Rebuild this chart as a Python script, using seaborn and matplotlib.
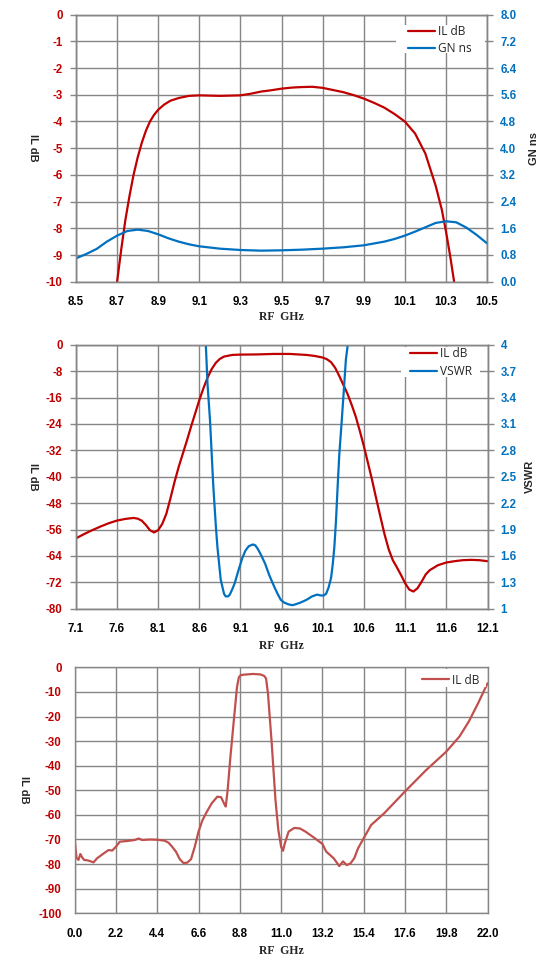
import numpy as np
import pandas as pd
import matplotlib
matplotlib.use("Agg")
import matplotlib.pyplot as plt
from matplotlib.patches import Rectangle
import seaborn as sns

# ---------------- data ----------------
# Chart 1: IL dB and GN ns vs RF GHz
il1_f = [8.70, 8.72, 8.74, 8.76, 8.78, 8.80, 8.82, 8.84, 8.86, 8.88, 8.90, 8.93, 8.96, 9.00, 9.05, 9.10,
         9.20, 9.30, 9.35, 9.40, 9.45, 9.50, 9.55, 9.60, 9.65, 9.70, 9.75, 9.80, 9.85, 9.90,
         9.95, 10.00, 10.05, 10.10, 10.15, 10.20, 10.25, 10.28, 10.30, 10.32, 10.34]
il1_db = [-10.0, -8.8, -7.7, -6.8, -6.0, -5.35, -4.8, -4.35, -4.0, -3.75, -3.56, -3.36, -3.22, -3.12, -3.04, -3.02,
          -3.04, -3.02, -2.96, -2.88, -2.83, -2.77, -2.73, -2.71, -2.70, -2.74, -2.82, -2.90, -3.01, -3.14,
          -3.30, -3.48, -3.72, -4.00, -4.45, -5.20, -6.40, -7.30, -8.10, -9.00, -10.0]
gn_f = [8.50, 8.55, 8.60, 8.65, 8.70, 8.75, 8.80, 8.85, 8.90, 8.95, 9.00, 9.05, 9.10, 9.20, 9.30,
        9.40, 9.50, 9.60, 9.70, 9.80, 9.90, 10.00, 10.05, 10.10, 10.15, 10.20, 10.25, 10.30, 10.35,
        10.40, 10.45, 10.50]
gn_ns = [0.70, 0.83, 0.98, 1.20, 1.38, 1.52, 1.56, 1.52, 1.42, 1.30, 1.20, 1.12, 1.06, 0.99, 0.95,
         0.93, 0.94, 0.96, 0.99, 1.03, 1.09, 1.20, 1.28, 1.38, 1.50, 1.63, 1.76, 1.81, 1.78,
         1.62, 1.40, 1.15]

# Chart 2: IL dB and VSWR vs RF GHz
il2_f = [7.1, 7.2, 7.3, 7.4, 7.5, 7.6, 7.7, 7.8, 7.85, 7.9, 7.95, 8.0, 8.05, 8.1, 8.15, 8.2, 8.25,
         8.3, 8.35, 8.4, 8.45, 8.5, 8.55, 8.6, 8.65, 8.7, 8.75, 8.8, 8.85, 8.9, 9.0, 9.1, 9.3, 9.5,
         9.7, 9.9, 10.0, 10.1, 10.15, 10.2, 10.25, 10.3, 10.35, 10.4, 10.45, 10.5, 10.55, 10.6,
         10.65, 10.7, 10.75, 10.8, 10.85, 10.9, 10.95, 11.0, 11.05, 11.1, 11.15, 11.2, 11.25, 11.3,
         11.35, 11.4, 11.5, 11.6, 11.7, 11.8, 11.9, 12.0, 12.1]
il2_db = [-58.7, -57.4, -56.2, -55.1, -54.1, -53.3, -52.8, -52.5, -52.7, -53.3, -54.6, -56.2, -56.9,
          -56.2, -54.3, -51.2, -46.5, -41.5, -37.0, -33.0, -29.0, -24.8, -20.8, -16.8, -13.2, -10.0,
          -7.4, -5.5, -4.3, -3.6, -3.1, -3.0, -2.95, -2.8, -2.8, -3.1, -3.4, -3.9, -4.4, -5.3, -7.0,
          -9.5, -12.2, -14.9, -18.2, -21.8, -26.2, -30.9, -36.0, -41.2, -46.8, -52.2, -57.5, -62.0,
          -65.3, -67.5, -69.8, -72.3, -74.2, -74.8, -73.8, -71.8, -69.6, -68.3, -66.8, -66.0, -65.6,
          -65.3, -65.2, -65.3, -65.6]
vswr_f = [8.60, 8.65, 8.68, 8.70, 8.73, 8.77, 8.80, 8.82, 8.86, 8.90, 8.92, 8.95, 8.97, 9.00, 9.03,
          9.08, 9.12, 9.16, 9.20, 9.25, 9.28, 9.31, 9.35, 9.40, 9.45, 9.51, 9.55, 9.59, 9.63, 9.68,
          9.73, 9.77, 9.83, 9.90, 9.97, 10.03, 10.08, 10.11, 10.14, 10.17, 10.20, 10.22, 10.24,
          10.26, 10.28, 10.30, 10.33, 10.36, 10.38, 10.41, 10.45, 10.50]
vswr = [5.5, 4.6, 3.98, 3.55, 3.14, 2.39, 1.95, 1.70, 1.33, 1.17, 1.14, 1.14, 1.16, 1.22, 1.29,
        1.45, 1.57, 1.66, 1.71, 1.73, 1.72, 1.68, 1.61, 1.51, 1.38, 1.25, 1.17, 1.10, 1.07, 1.05,
        1.04, 1.05, 1.07, 1.10, 1.14, 1.16, 1.15, 1.15, 1.17, 1.24, 1.35, 1.50, 1.70,
        2.00, 2.39, 2.75, 3.14, 3.55, 3.83, 4.05, 4.6, 5.4]

# Chart 3: wideband IL dB
il3_f = [0.00, 0.05, 0.10, 0.20, 0.30, 0.40, 0.50, 0.70, 0.90, 1.00, 1.20, 1.50, 1.80, 2.00, 2.20,
         2.40, 2.80, 3.20, 3.40, 3.60, 4.00, 4.40, 4.80, 5.00, 5.20, 5.40, 5.60, 5.80, 6.00, 6.20,
         6.40, 6.60, 6.80, 7.00, 7.30, 7.60, 7.80, 8.00, 8.05, 8.15, 8.30, 8.50, 8.65, 8.75, 8.85,
         9.00, 9.50, 9.90, 10.10, 10.20, 10.30, 10.50, 10.70, 10.85, 11.00, 11.10, 11.20, 11.40,
         11.70, 12.00, 12.30, 12.80, 13.20, 13.40, 13.80, 14.10, 14.30, 14.50, 14.70, 14.90, 15.10,
         15.40, 15.80, 16.50, 17.60, 18.70, 19.80, 20.50, 21.00, 21.50, 22.00]
il3_db = [-69.9, -74.0, -77.5, -78.3, -75.9, -77.3, -78.3, -78.5, -79.0, -79.3, -77.6, -75.9, -74.3,
          -74.5, -72.9, -70.9, -70.6, -70.2, -69.6, -70.2, -70.0, -70.1, -70.5, -71.3, -73.0, -75.0,
          -78.0, -79.6, -79.4, -78.0, -72.9, -66.8, -62.3, -59.3, -55.3, -52.6, -52.8, -56.0, -56.6,
          -50.0, -36.3, -20.0, -8.0, -4.0, -3.2, -3.0, -2.7, -2.9, -3.5, -4.6, -10.6, -30.9, -53.9,
          -66.0, -72.9, -74.6, -71.5, -66.8, -65.3, -65.5, -66.8, -69.5, -71.8, -74.9, -77.6, -80.8,
          -78.9, -80.4, -79.7, -77.6, -73.6, -69.5, -64.1, -59.3, -50.5, -42.0, -34.3, -28.2, -22.1,
          -14.6, -6.5]

# ticks
x1_ticks = [8.5, 8.7, 8.9, 9.1, 9.3, 9.5, 9.7, 9.9, 10.1, 10.3, 10.5]
y1_ticks = [0, -1, -2, -3, -4, -5, -6, -7, -8, -9, -10]
y1r_ticks = [0.0, 0.8, 1.6, 2.4, 3.2, 4.0, 4.8, 5.6, 6.4, 7.2, 8.0]
x2_ticks = [7.1, 7.6, 8.1, 8.6, 9.1, 9.6, 10.1, 10.6, 11.1, 11.6, 12.1]
y2_ticks = [0, -8, -16, -24, -32, -40, -48, -56, -64, -72, -80]
y2r_ticks = [1, 1.3, 1.6, 1.9, 2.2, 2.5, 2.8, 3.1, 3.4, 3.7, 4]
y2r_labels = ["1", "1.3", "1.6", "1.9", "2.2", "2.5", "2.8", "3.1", "3.4", "3.7", "4"]
x3_ticks = [0.0, 2.2, 4.4, 6.6, 8.8, 11.0, 13.2, 15.4, 17.6, 19.8, 22.0]
y3_ticks = [0, -10, -20, -30, -40, -50, -60, -70, -80, -90, -100]

# ---------------- style ----------------
sns.set_style("white")
plt.rcParams['font.family'] = ['Liberation Sans', 'DejaVu Sans']

RED = "#C00000"
RED3 = "#C0504D"
BLUE = "#0070C0"
GRID = "#868686"
TICKFS = 8.3
W, H = 556, 976

fig = plt.figure(figsize=(5.56, 9.76), dpi=100)


def add_axes_px(l, t, r, b):
    return fig.add_axes([l / W, 1 - b / H, (r - l) / W, (b - t) / H])


def style_left(ax, xt, xl, yt, yl, ycolor):
    ax.set_xticks(xt, xl, fontsize=TICKFS, fontweight='bold', color='black')
    ax.set_yticks(yt, yl, fontsize=TICKFS, fontweight='bold', color=ycolor)
    ax.tick_params(axis='x', direction='out', length=4, width=1, color=GRID, pad=6.5)
    ax.tick_params(axis='y', direction='out', length=4, width=1, color=GRID, pad=5.5)
    ax.grid(True, color=GRID, lw=1)
    ax.set_axisbelow(True)
    for s in ax.spines.values():
        s.set_color(GRID)
        s.set_linewidth(1)
    ax.set_xlabel("")
    ax.set_ylabel("")


def style_right(ax, yt, yl):
    ax.set_yticks(yt, yl, fontsize=TICKFS, fontweight='bold', color=BLUE)
    ax.tick_params(axis='y', direction='out', length=4, width=1, color=GRID, pad=5.5)
    ax.grid(False)
    for s in ax.spines.values():
        s.set_color(GRID)
        s.set_linewidth(1)
        s.set_zorder(11)
    ax.set_ylabel("")


def titles(ax, lx, rx, xly, right_text=None, left_text="IL dB"):
    ax.text(0.5, xly, "RF  GHz", transform=ax.transAxes, ha='center', va='center',
            fontsize=8.5, fontweight='bold', family=['Liberation Serif'])
    ax.text(lx, 0.5, left_text, transform=ax.transAxes, ha='center', va='center',
            rotation=270, fontsize=8, fontweight='bold')
    if right_text:
        ax.text(rx, 0.5, right_text, transform=ax.transAxes, ha='center', va='center',
                rotation=90, fontsize=8, fontweight='bold')


def legend(ax, axbox, handles, labels, hx, ty, box, spacing=0.3):
    # axbox: (l, t, r, b) pixel bounds of the axes; box: pixel bounds of legend background
    l, t, r, b = axbox
    bl, bt, br, bb = box
    ax.add_patch(Rectangle(((bl - l) / (r - l), (b - bb) / (b - t)), (br - bl) / (r - l),
                           (bb - bt) / (b - t), transform=ax.transAxes, facecolor='white',
                           edgecolor='none', zorder=9, clip_on=False))
    lg = ax.legend(handles, labels, loc='upper left',
                   bbox_to_anchor=((hx - l) / (r - l), (b - ty) / (b - t)),
                   frameon=False, handlelength=2.3, handletextpad=0.25,
                   borderpad=0, labelspacing=spacing, borderaxespad=0,
                   prop={'family': ['Open Sans', 'DejaVu Sans'], 'size': 8.6})
    lg.set_zorder(10)


# ---------- chart 1 ----------
box1 = (76, 14.7, 487, 281.7)
df1 = pd.DataFrame({"f": il1_f, "il": il1_db})
df1g = pd.DataFrame({"f": gn_f, "gn": gn_ns})
ax1 = add_axes_px(*box1)
sns.lineplot(data=df1, x="f", y="il", ax=ax1, color=RED, lw=1.6, legend=False)
ax1.set_xlim(8.5, 10.5)
ax1.set_ylim(-10, 0)
style_left(ax1, x1_ticks, [f"{v:.1f}" for v in x1_ticks], y1_ticks, [str(v) for v in y1_ticks], RED)
ax1r = ax1.twinx()
sns.lineplot(data=df1g, x="f", y="gn", ax=ax1r, color=BLUE, lw=1.6, legend=False)
ax1r.set_ylim(0, 8)
ax1r.set_xlim(8.5, 10.5)
style_right(ax1r, y1r_ticks, [f"{v:.1f}" for v in y1r_ticks])
titles(ax1, -0.1046, 1.114, -0.134, "GN ns")
legend(ax1r, box1, [ax1.lines[0], ax1r.lines[0]], ["IL dB", "GN ns"], 408, 25.5,
       (396, 25, 485, 53))

# ---------- chart 2 ----------
box2 = (75.8, 344.7, 487.5, 608.7)
df2 = pd.DataFrame({"f": il2_f, "il": il2_db})
df2v = pd.DataFrame({"f": vswr_f, "v": vswr})
ax2 = add_axes_px(*box2)
sns.lineplot(data=df2, x="f", y="il", ax=ax2, color=RED, lw=1.6, legend=False)
ax2.set_xlim(7.1, 12.1)
ax2.set_ylim(-80, 0)
style_left(ax2, x2_ticks, [f"{v:.1f}" for v in x2_ticks], y2_ticks, [str(v) for v in y2_ticks], RED)
ax2r = ax2.twinx()
sns.lineplot(data=df2v, x="f", y="v", ax=ax2r, color=BLUE, lw=1.6, legend=False)
ax2r.set_ylim(1, 4)
ax2r.set_xlim(7.1, 12.1)
style_right(ax2r, y2r_ticks, y2r_labels)
titles(ax2, -0.105, 1.103, -0.141, "VSWR")
legend(ax2r, box2, [ax2.lines[0], ax2r.lines[0]], ["IL dB", "VSWR"], 410, 347,
       (401, 346.5, 480, 377), spacing=0.4)

# ---------- chart 3 ----------
box3 = (74.7, 667.3, 487.5, 913.3)
df3 = pd.DataFrame({"f": il3_f, "il": il3_db})
ax3 = add_axes_px(*box3)
sns.lineplot(data=df3, x="f", y="il", ax=ax3, color=RED3, lw=1.6, legend=False)
ax3.set_xlim(0, 22)
ax3.set_ylim(-100, 0)
style_left(ax3, x3_ticks, [f"{v:.1f}" for v in x3_ticks], y3_ticks, [str(v) for v in y3_ticks], RED)
for s in ax3.spines.values():
    s.set_zorder(11)
titles(ax3, -0.122, None, -0.153)
legend(ax3, box3, [ax3.lines[0]], ["IL dB"], 422, 673.5, (414, 669, 486, 687))

fig.savefig("out.png", dpi=100, facecolor='white')
